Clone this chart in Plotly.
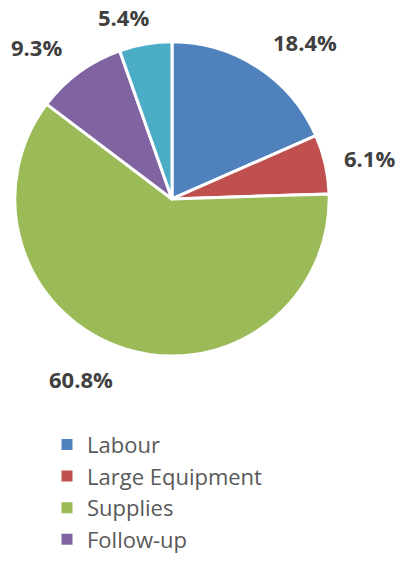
import math
import plotly.graph_objects as go

# ---- data ----
categories = ["Labour", "Large Equipment", "Supplies", "Follow-up", "Other"]
values = [18.4, 6.1, 60.8, 9.3, 5.4]
colors = ["#4F81BD", "#C0504D", "#9BBB59", "#8064A2", "#4BACC6"]
legend_items = categories[:4]

# label placement style (best-fit nudges, degrees / px)
label_angle_nudge = [7, 1, 9, -5.5, -5]
label_dist = [206, 202, 202, 204, 189]

W, H = 398, 561
cx, cy, r = 172, 200, 158  # pie center / radius in px (top-left origin)

fig = go.Figure()
fig.add_trace(go.Pie(
    labels=categories,
    values=values,
    sort=False,
    direction="clockwise",
    rotation=0,
    marker=dict(colors=colors, line=dict(color="white", width=3)),
    textinfo="none",
    hoverinfo="label+percent",
    showlegend=False,
    domain=dict(x=[(cx - r) / W, (cx + r) / W], y=[(H - cy - r) / H, (H - cy + r) / H]),
))

# outside percentage labels, positioned from the data (mid-angle of each slice)
total = sum(values)
cum = 0.0
for v, dn, dist in zip(values, label_angle_nudge, label_dist):
    mid = (cum + v / 2) / total * 2 * math.pi + math.radians(dn)
    cum += v
    px = cx + dist * math.sin(mid)
    py = cy - dist * math.cos(mid)
    fig.add_annotation(
        x=px / W, y=1 - py / H, xref="paper", yref="paper",
        text=f"<b>{v / total * 100:.1f}%</b>", showarrow=False,
        font=dict(family="Open Sans", size=22, color="#404040"),
        xanchor="center", yanchor="middle",
    )

# legend entries (first four categories)
for name, col in zip(legend_items, colors):
    fig.add_trace(go.Scatter(
        x=[None], y=[None], mode="markers", name=name,
        marker=dict(symbol="square", size=11, color=col),
        showlegend=True, hoverinfo="skip",
    ))

fig.update_layout(
    width=W, height=H,
    margin=dict(l=0, r=0, t=0, b=0),
    paper_bgcolor="white", plot_bgcolor="white",
    xaxis=dict(visible=False), yaxis=dict(visible=False),
    legend=dict(
        x=47 / W, y=1 - 426 / H, xanchor="left", yanchor="top",
        font=dict(family="Open Sans", size=22, color="#595959"),
        bgcolor="rgba(0,0,0,0)", itemclick=False,
    ),
)

fig.write_html("out.html")
